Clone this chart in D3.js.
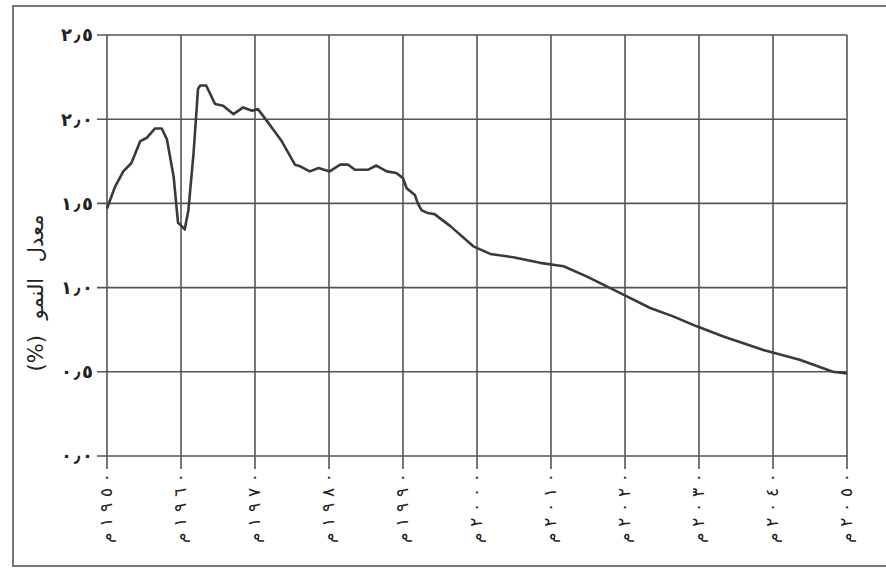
<!DOCTYPE html>
<html><head><meta charset="utf-8">
<script src="https://cdn.jsdelivr.net/npm/d3@7"></script>
<style>html,body{margin:0;padding:0;background:#fff;}</style>
</head><body>
<svg id="c" width="886" height="569"></svg>
<script>
const years = [1950, 1951.1, 1952.2, 1953.3, 1954.5, 1955.4, 1956.5, 1957.4, 1958.1, 1959, 1959.6, 1960.1, 1960.5, 1961, 1961.7, 1962.3, 1962.6, 1963.4, 1964.6, 1965.7, 1967.1, 1968.4, 1969.6, 1970.4, 1971.6, 1973.6, 1975.4, 1976.1, 1977.4, 1978.6, 1980.1, 1981.5, 1982.6, 1983.5, 1985.3, 1986.4, 1987.8, 1989.1, 1990, 1990.5, 1991.6, 1992, 1992.5, 1993.2, 1994.3, 1996.4, 1999.5, 2001.8, 2004.9, 2008.5, 2011.7, 2014.8, 2018.9, 2023.4, 2026.5, 2029.7, 2033.3, 2036, 2038.7, 2043.6, 2048.1, 2050];
const growthRate = [1.47, 1.60, 1.69, 1.74, 1.87, 1.89, 1.945, 1.945, 1.88, 1.66, 1.385, 1.365, 1.345, 1.46, 1.80, 2.18, 2.20, 2.20, 2.09, 2.08, 2.03, 2.07, 2.05, 2.06, 1.99, 1.87, 1.73, 1.72, 1.69, 1.71, 1.69, 1.73, 1.73, 1.70, 1.70, 1.725, 1.69, 1.68, 1.65, 1.59, 1.55, 1.50, 1.46, 1.445, 1.435, 1.365, 1.245, 1.20, 1.18, 1.147, 1.127, 1.067, 0.978, 0.879, 0.829, 0.77, 0.71, 0.67, 0.63, 0.571, 0.50, 0.49];
const xTicks = [1950, 1960, 1970, 1980, 1990, 2000, 2010, 2020, 2030, 2040, 2050];
const yTicks = [0, 0.5, 1.0, 1.5, 2.0, 2.5];
const yTickLabels = ["٠٫٠", "٠٫٥", "١٫٠", "١٫٥", "٢٫٠", "٢٫٥"];
const yTitle = "معدل النمو (%)";
const yearSuffix = "م";

const ar = s => String(s).replace(/[0-9]/g, d => "٠١٢٣٤٥٦٧٨٩"[+d]);

const svg = d3.select("#c");
const x = d3.scaleLinear().domain([1950, 2050]).range([107, 847]);
const y = d3.scaleLinear().domain([0, 2.5]).range([456, 35]);
const gridColor = "#555";
const font = "DejaVu Sans, sans-serif";

// outer frame
svg.append("rect").attr("x", 13).attr("y", 6).attr("width", 885).attr("height", 560)
  .attr("fill", "none").attr("stroke", "#777").attr("stroke-width", 2);

// horizontal grid + left ticks
svg.append("g").selectAll("line").data(yTicks).join("line")
  .attr("x1", 97).attr("x2", x(2050))
  .attr("y1", d => y(d)).attr("y2", d => y(d))
  .attr("stroke", gridColor).attr("stroke-width", 1.6);

// vertical grid + bottom ticks
svg.append("g").selectAll("line").data(xTicks).join("line")
  .attr("x1", d => x(d)).attr("x2", d => x(d))
  .attr("y1", y(2.5)).attr("y2", 469)
  .attr("stroke", gridColor).attr("stroke-width", 1.6);

// y tick labels
svg.append("g").selectAll("text").data(yTicks).join("text")
  .attr("x", 93).attr("y", d => y(d)).attr("dy", "0.35em")
  .attr("text-anchor", "end")
  .attr("font-family", font).attr("font-size", 18).attr("font-weight", "bold")
  .attr("textLength", 32).attr("lengthAdjust", "spacing").attr("fill", "#222")
  .text((d, i) => yTickLabels[i]);

// x tick labels (rotated)
svg.append("g").selectAll("text").data(xTicks).join("text")
  .attr("transform", d => `translate(${x(d) - 1},473) rotate(-90)`)
  .attr("dy", "0.35em")
  .attr("text-anchor", "end")
  .attr("font-family", font).attr("font-size", 17)
  .attr("textLength", 70).attr("lengthAdjust", "spacing").attr("fill", "#222")
  .text(d => ar(d) + yearSuffix);

// y title
svg.append("text")
  .attr("transform", "translate(36,293) rotate(-90)")
  .attr("dy", "0.35em")
  .attr("text-anchor", "middle")
  .attr("direction", "rtl")
  .attr("font-family", font).attr("font-size", 21).attr("word-spacing", 9).attr("fill", "#222")
  .text(yTitle);

// line
const line = d3.line().x((d, i) => x(years[i])).y(d => y(d));
svg.append("path").datum(growthRate)
  .attr("d", line).attr("fill", "none")
  .attr("stroke", "#3a3a3a").attr("stroke-width", 2.6)
  .attr("stroke-linejoin", "round");
</script>
</body></html>
